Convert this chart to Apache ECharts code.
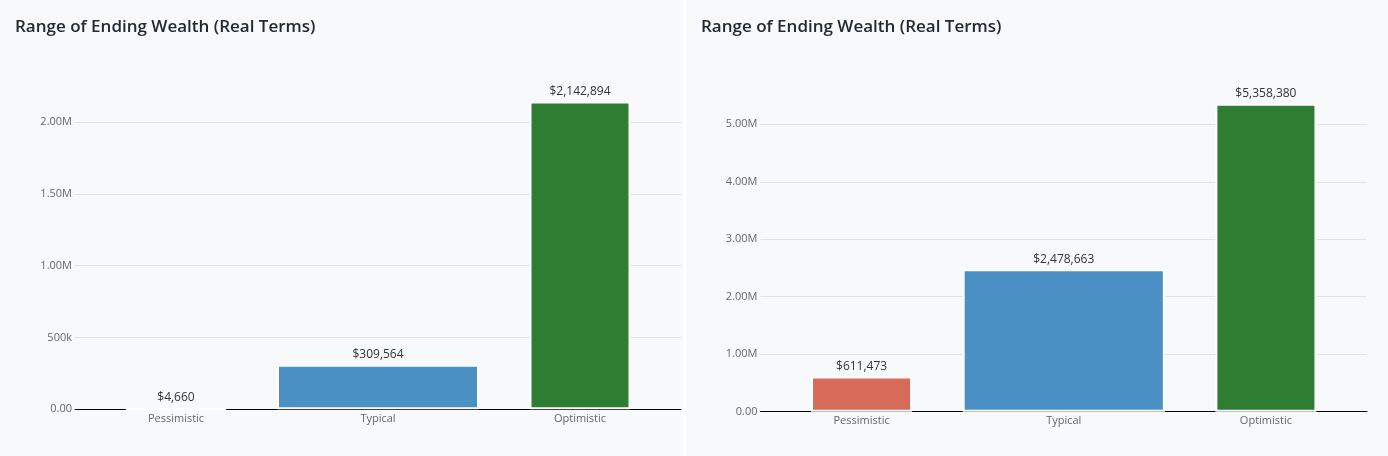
<!DOCTYPE html>
<html>
<head>
<meta charset="utf-8">
<title>Range of Ending Wealth</title>
<script src="https://cdn.jsdelivr.net/npm/echarts@6/dist/echarts.min.js"></script>
<style>
  html, body { margin: 0; padding: 0; background: #ffffff; }
  .panel { position: absolute; top: 0; height: 456px; background: #f8f9fa; }
  #chartLeft { left: 0; width: 683px; }
  #chartRight { left: 686px; width: 702px; }
</style>
</head>
<body>
<div id="chartLeft" class="panel"></div>
<div id="chartRight" class="panel"></div>
<script>
// 数据
const categories = ['Pessimistic', 'Typical', 'Optimistic'];
const leftValues = [4660, 309564, 2142894];
const rightValues = [611473, 2478663, 5358380];
const barColors = ['#d66b59', '#4a90c4', '#2e7d32'];
const titleText = 'Range of Ending Wealth (Real Terms)';

const FONT = '"Open Sans", "Noto Sans", sans-serif';

function axisFmt(v) {
    if (v === 0) return '0.00';
    if (v >= 1e6) return (v / 1e6).toFixed(2) + 'M';
    return (v / 1e3) + 'k';
}

function moneyFmt(p) {
    return '$' + Number(p.value).toLocaleString('en-US');
}

function buildOption(values, interval, grid) {
    const barLabel = {
        show: true,
        position: 'top',
        distance: 4,
        fontSize: 12,
        color: '#333',
        fontFamily: FONT,
        formatter: moneyFmt
    };
    // 窄柱：Pessimistic / Optimistic
    const narrowData = values.map((v, i) => i === 1 ? '-' : { value: v, itemStyle: { color: barColors[i] } });
    // 宽柱：Typical
    const wideData = values.map((v, i) => i === 1 ? { value: v, itemStyle: { color: barColors[i] } } : '-');
    return {
        animation: false,
        textStyle: { fontFamily: FONT },
        title: {
            text: titleText,
            left: 15,
            top: 19,
            padding: 0,
            textStyle: { fontSize: 17, fontWeight: 600, color: '#212933', fontFamily: FONT }
        },
        grid: Object.assign({ containLabel: false, outerBoundsMode: 'none' }, grid),
        xAxis: [
            {
                type: 'category',
                data: categories,
                axisLine: { lineStyle: { color: '#000', width: 1 } },
                axisTick: { show: false },
                axisLabel: { fontSize: 11, color: '#666', margin: 4, fontFamily: FONT }
            },
            {
                type: 'category',
                data: categories,
                show: false
            }
        ],
        yAxis: {
            type: 'value',
            min: 0,
            max: 'dataMax',
            interval: interval,
            axisLine: { show: false },
            axisTick: { show: false },
            axisLabel: { fontSize: 11, color: '#666', margin: 3, formatter: axisFmt, showMaxLabel: false, fontFamily: FONT },
            splitLine: { show: true, showMaxLine: false, lineStyle: { color: '#e1e3e6', width: 1 } }
        },
        series: [
            {
                type: 'bar',
                xAxisIndex: 0,
                barWidth: '50%',
                data: narrowData,
                itemStyle: { borderColor: '#fff', borderWidth: 2 },
                label: barLabel
            },
            {
                type: 'bar',
                xAxisIndex: 1,
                barWidth: '100%',
                data: wideData,
                itemStyle: { borderColor: '#fff', borderWidth: 2 },
                label: barLabel
            }
        ]
    };
}

const chartLeft = echarts.init(document.getElementById('chartLeft'));
chartLeft.setOption(buildOption(leftValues, 500000, { left: 75, right: 2, top: 101.5, bottom: 46.7 }));

const chartRight = echarts.init(document.getElementById('chartRight'));
chartRight.setOption(buildOption(rightValues, 1000000, { left: 74.5, right: 21, top: 103.7, bottom: 44.3 }));

window.addEventListener('resize', () => {
    chartLeft.resize();
    chartRight.resize();
});
</script>
</body>
</html>
